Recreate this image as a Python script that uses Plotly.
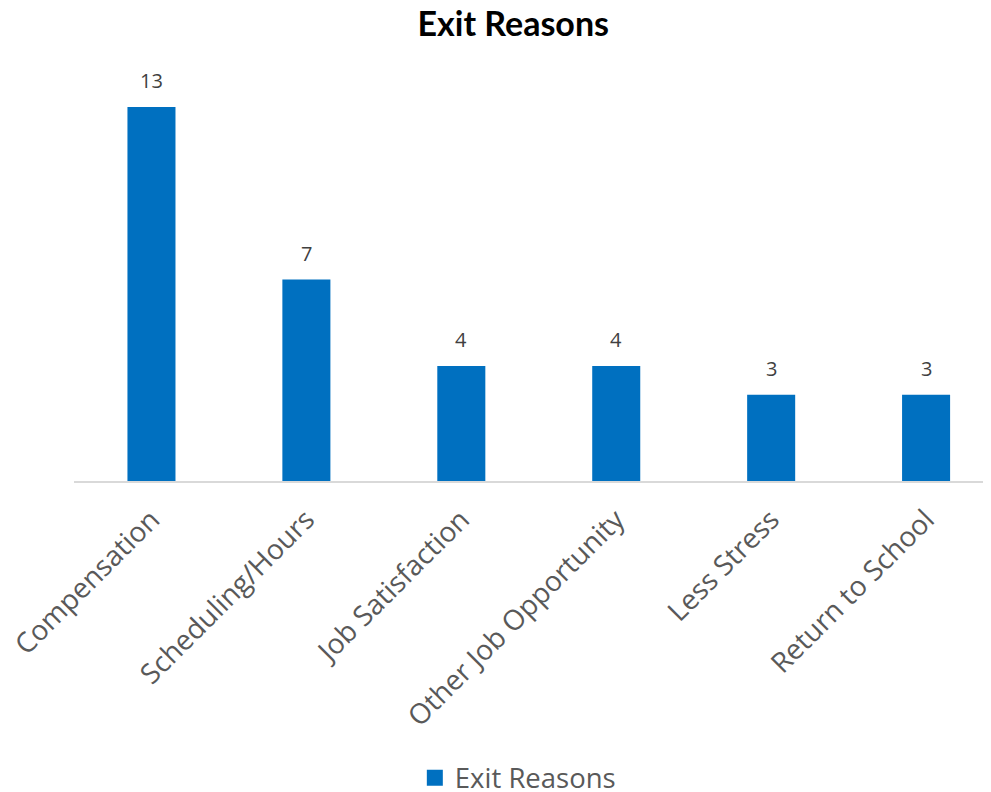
import plotly.graph_objects as go

categories = ["Compensation", "Scheduling/Hours", "Job Satisfaction",
              "Other Job Opportunity", "Less Stress", "Return to School"]
values = [13, 7, 4, 4, 3, 3]
series_name = "Exit Reasons"
title_text = "Exit Reasons"

BAR_COLOR = "#0070C0"

fig = go.Figure()
fig.add_trace(go.Bar(
    x=categories, y=values, name=series_name,
    marker=dict(color=BAR_COLOR, line=dict(width=0)),
    width=0.31, showlegend=False,
))
# legend entry with a larger square swatch
fig.add_trace(go.Scatter(
    x=[None], y=[None], mode="markers", name=series_name,
    marker=dict(symbol="square", size=18, color=BAR_COLOR),
    showlegend=True,
))

for c, v in zip(categories, values):
    fig.add_annotation(x=c, y=v, text=str(v), showarrow=False,
                       yanchor="bottom", yshift=11,
                       font=dict(family="Open Sans", size=20, color="#404040"))

fig.update_layout(
    width=983, height=784,
    margin=dict(l=66, r=0, t=52, b=311, pad=0),
    paper_bgcolor="white", plot_bgcolor="white",
    title=dict(text="<b>" + title_text + "</b>", x=0.479, xref="paper",
               xanchor="center", y=0.979, yanchor="middle",
               font=dict(family="Lato", size=34, color="black")),
    xaxis=dict(range=[-0.5, 5.419], tickangle=-45, showgrid=False,
               showline=True, linecolor="#D9D9D9", linewidth=2,
               automargin=False, ticklabelstandoff=9,
               ticks="", tickfont=dict(family="Open Sans", size=28, color="#595959")),
    yaxis=dict(range=[0, 14.63], visible=False, showgrid=False, zeroline=False,
               automargin=False),
    legend=dict(orientation="h", x=0.484, xanchor="center",
                yref="container", y=0.018, yanchor="middle",
                font=dict(family="Open Sans", size=27.5, color="#595959"),
                itemwidth=30),
    bargap=0.69,
)

fig.write_html("out.html")
